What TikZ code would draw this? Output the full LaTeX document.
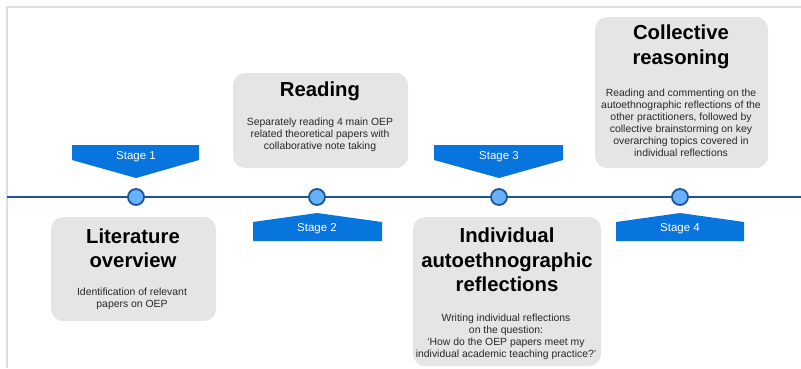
\documentclass[tikz,border=0pt]{standalone}
\usepackage{fontspec}
\setmainfont{Liberation Sans}
\definecolor{stageblue}{RGB}{8,116,222}
\definecolor{lineblue}{RGB}{30,84,145}
\definecolor{dotblue}{RGB}{102,178,255}
\definecolor{boxgray}{RGB}{229,229,229}
\definecolor{framegray}{RGB}{222,222,214}
\definecolor{textgray}{RGB}{40,40,40}
\tikzset{
  dot/.style={circle,draw=lineblue,line width=1.8pt,fill=dotblue,minimum size=16pt,inner sep=0pt},
  stagetext/.style={text=white,inner sep=0pt,font=\fontsize{11.5}{13}\selectfont},
  card/.style={fill=boxgray,rounded corners=12pt},
  title/.style={align=center,inner sep=0pt,font=\fontsize{20.3}{24.5}\selectfont\bfseries},
  desc/.style={align=center,inner sep=0pt,text=textgray,font=\fontsize{10.4}{12}\selectfont}
}
\begin{document}
\begin{tikzpicture}[x=1pt,y=-1pt]
\useasboundingbox (0,0) rectangle (801,368);
% frame
\draw [framegray,line width=1.5pt] (7,368) -- (7,7) -- (801,7);
% timeline
\coordinate (start) at (7,197);
\coordinate (end) at (801,197);
\node [dot] (d1) at (136,197) {};
\node [dot] (d2) at (317,197) {};
\node [dot] (d3) at (499,197) {};
\node [dot] (d4) at (680,197) {};
\draw [lineblue,line width=1.6pt] (start) -- (d1) -- (d2) -- (d3) -- (d4) -- (end);
% stage banners
\fill [stageblue] (72,145) -- (199,145) -- (199,160) -- (136,178) -- (72,160) -- cycle;
\fill [stageblue] (253,241) -- (382,241) -- (382,222) -- (317,213) -- (253,222) -- cycle;
\fill [stageblue] (434,145) -- (563,145) -- (563,160) -- (499,178) -- (434,160) -- cycle;
\fill [stageblue] (616,241) -- (744,241) -- (744,222) -- (680,213) -- (616,222) -- cycle;
\node [stagetext] (s1) at (136,157) {Stage 1};
\node [stagetext] (s2) at (317,229) {Stage 2};
\node [stagetext] (s3) at (499,157) {Stage 3};
\node [stagetext] (s4) at (680,229) {Stage 4};
% cards
\fill [card] (51,217) rectangle (216,321);
\fill [card] (233,73) rectangle (408,168);
\fill [card] (413,217) rectangle (601,366);
\fill [card] (595,17) rectangle (768,168);
\node [title] (t1) at (133,248) {Literature\\overview};
\node [desc] (p1) at (132,299) {Identification of relevant\\papers on OEP};
\node [title] (t2) at (320,91) {Reading};
\node [desc] (p2) at (320,135) {Separately reading 4 main OEP\\related theoretical papers with\\collaborative note taking};
\node [title] (t3) at (507,260) {Individual\\autoethnographic\\reflections};
\node [desc] (p3) at (506,337) {Writing individual reflections\\on the question:\\`How do the OEP papers meet my\\individual academic teaching practice?'};
\node [title] (t4) at (681,47) {Collective\\reasoning};
\node [desc] (p4) at (681,123) {Reading and commenting on the\\autoethnographic reflections of the\\other practitioners, followed by\\collective brainstorming on key\\overarching topics covered in\\individual reflections};
\end{tikzpicture}
\end{document}
